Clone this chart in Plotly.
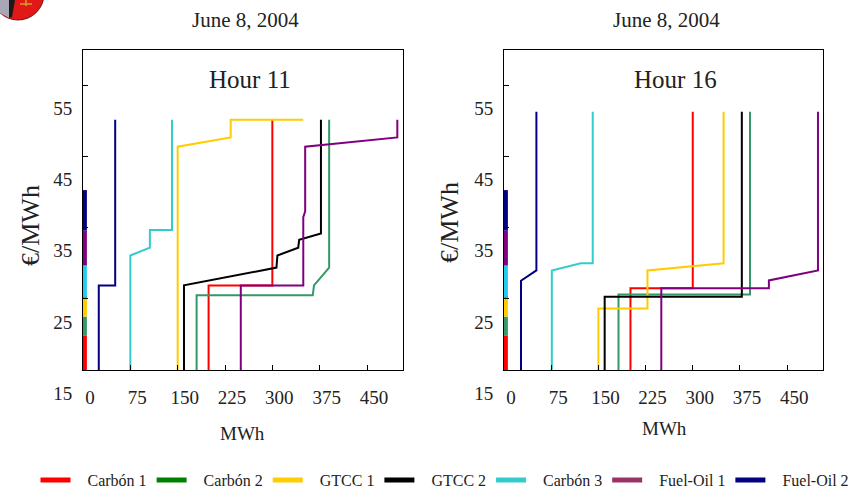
import plotly.graph_objects as go

W, H = 866, 489

# ---------------- data ----------------
names = ["Carbón 1", "Carbón 2", "GTCC 1", "GTCC 2", "Carbón 3", "Fuel-Oil 1", "Fuel-Oil 2"]
line_colors = ["#FF0000", "#339966", "#FFCC00", "#000000", "#33CCCC", "#800080", "#000080"]
legend_colors = ["#FF0000", "#008000", "#FFCC00", "#000000", "#33CCCC", "#993366", "#000080"]

x_ticks = [0, 75, 150, 225, 300, 375, 450]
y_ticks = [15, 25, 35, 45, 55]

# Hour 11 supply curves (MWh, €/MWh)
c1_11_x = [199, 199, 300, 300]
c1_11_y = [15, 26.9, 26.9, 50.2]
c2_11_x = [180, 180, 364, 366, 390, 390]
c2_11_y = [15, 25.5, 25.5, 26.9, 29.4, 50.2]
g1_11_x = [150, 150, 234, 234, 349]
g1_11_y = [15, 46.4, 47.7, 50.2, 50.2]
g2_11_x = [160, 160, 306.5, 308, 341, 342.5, 377, 377]
g2_11_y = [15, 26.9, 29.4, 31.1, 32.2, 33.3, 34.2, 50.2]
c3_11_x = [75, 75, 106, 106, 141, 141]
c3_11_y = [15, 31.1, 32.2, 34.7, 34.7, 50.2]
f1_11_x = [250, 250, 349, 349, 352, 352, 498, 498]
f1_11_y = [15, 26.9, 26.9, 36.5, 37.3, 46.4, 47.7, 50.2]
f2_11_x = [25, 25, 51, 51]
f2_11_y = [15, 26.9, 26.9, 50.2]

# Hour 16 supply curves
c1_16_x = [201, 201, 300, 300]
c1_16_y = [15, 26.5, 26.5, 51.3]
c2_16_x = [182, 182, 391, 391]
c2_16_y = [15, 25.6, 25.6, 51.3]
g1_16_x = [150, 150, 228, 228, 349, 349]
g1_16_y = [15, 23.65, 23.65, 29.0, 30.0, 51.3]
g2_16_x = [160, 160, 378, 378]
g2_16_y = [15, 25.3, 25.3, 51.3]
c3_16_x = [76, 76, 122, 141, 141]
c3_16_y = [15, 29.0, 30.0, 30.0, 51.3]
f1_16_x = [250, 250, 421, 421, 499, 499]
f1_16_y = [15, 26.5, 26.5, 27.6, 29.0, 51.3]
f2_16_x = [27, 27, 51.5, 51.5]
f2_16_y = [15, 27.55, 29.0, 51.3]

# colour band at zero quantity (segment bounds in €/MWh, order of names)
band_lo = [15, 19.8, 22.5, 25.2, 25.2, 29.7, 34.6]
band_hi = [19.8, 22.5, 25.2, 25.4, 29.7, 34.6, 40.3]
band_x = 3

curves_11 = [(c1_11_x, c1_11_y), (c2_11_x, c2_11_y), (g1_11_x, g1_11_y), (g2_11_x, g2_11_y),
             (c3_11_x, c3_11_y), (f1_11_x, f1_11_y), (f2_11_x, f2_11_y)]
curves_16 = [(c1_16_x, c1_16_y), (c2_16_x, c2_16_y), (g1_16_x, g1_16_y), (g2_16_x, g2_16_y),
             (c3_16_x, c3_16_y), (f1_16_x, f1_16_y), (f2_16_x, f2_16_y)]

FONT = "Liberation Serif"

def px(x):
    return x / W

def py(y):
    return 1 - y / H

fig = go.Figure()

for axis_suffix, curves in (("", curves_11), ("2", curves_16)):
    for i, (xs, ys) in enumerate(curves):
        fig.add_trace(go.Scatter(x=xs, y=ys, mode="lines",
                                 line=dict(color=line_colors[i], width=2),
                                 xaxis="x" + axis_suffix, yaxis="y" + axis_suffix,
                                 showlegend=False, hoverinfo="skip"))
    for i in range(len(names)):
        fig.add_trace(go.Scatter(x=[band_x, band_x], y=[band_lo[i], band_hi[i]], mode="lines",
                                 line=dict(color=line_colors[i] if i != 4 else "#22CCEE", width=4),
                                 xaxis="x" + axis_suffix, yaxis="y" + axis_suffix,
                                 showlegend=False, hoverinfo="skip"))

# legend entries
for i, n in enumerate(names):
    fig.add_trace(go.Scatter(x=[None], y=[None], mode="lines", name="\u00a0\u00a0\u00a0" + n,
                             line=dict(color=legend_colors[i], width=5)))

xaxis_common = dict(range=[0, 507], tickvals=x_ticks, ticks="inside", ticklen=5, tickcolor="black",
                    showline=True, linecolor="black", linewidth=1, mirror=True, showgrid=False,
                    zeroline=False, tickfont=dict(family=FONT, size=19, color="#222"),
                    ticklabelshift=7, ticklabelstandoff=10, automargin=False)
yaxis_common = dict(range=[15, 60], tickvals=y_ticks, ticks="inside", ticklen=5, tickcolor="black",
                    showline=True, linecolor="black", linewidth=1, mirror=True, showgrid=False,
                    zeroline=False, tickfont=dict(family=FONT, size=19, color="#222"),
                    ticklabelshift=23, ticklabelstandoff=6, automargin=False)

fig.update_layout(
    width=W, height=H, margin=dict(l=0, r=0, t=0, b=0, autoexpand=False),
    paper_bgcolor="white", plot_bgcolor="white",
    font=dict(family=FONT, color="#222"),
    xaxis=dict(domain=[px(83), px(403)], anchor="y", **xaxis_common),
    yaxis=dict(domain=[py(370), py(50)], anchor="x", **yaxis_common),
    xaxis2=dict(domain=[px(504), px(823)], anchor="y2", **xaxis_common),
    yaxis2=dict(domain=[py(370), py(50)], anchor="x2", **yaxis_common),
    legend=dict(orientation="h", x=px(445), xanchor="center", y=py(480), yanchor="middle",
                font=dict(family=FONT, size=16, color="#222"), itemwidth=30,
                bgcolor="rgba(0,0,0,0)"),
    showlegend=True,
)

def label(cx, cy, text, size, angle=0):
    return dict(x=px(cx), y=py(cy), xref="paper", yref="paper", text=text, showarrow=False,
                xanchor="center", yanchor="middle", textangle=angle,
                font=dict(family=FONT, size=size, color="#222"))

ann = []
for cx in (245, 666):
    ann.append(label(cx, 20, "June 8, 2004", 21))
ann.append(label(250, 80, "Hour 11", 25))
ann.append(label(675, 80, "Hour 16", 25))
ann.append(label(242, 433, "MWh", 19))
ann.append(label(664, 428, "MWh", 19))
ann.append(label(30, 225, "€/MWh", 26, -90))
ann.append(label(449, 222, "€/MWh", 26, -90))
fig.update_layout(annotations=ann)

# logo fragment (top-left corner)
shapes = [
    dict(type="circle", xref="paper", yref="paper", x0=px(18 - 26), x1=px(18 + 26),
         y0=py(20), y1=py(-32), fillcolor="#E01818", line=dict(color="#7a1010", width=1), layer="above"),
    dict(type="path", xref="paper", yref="paper",
         path=f"M {px(0)},{py(0)} L {px(11)},{py(0)} L {px(9)},{py(18)} L {px(0)},{py(13)} Z",
         fillcolor="#a9a6b5", line=dict(width=0), layer="above"),
    dict(type="path", xref="paper", yref="paper",
         path=f"M {px(9)},{py(0)} L {px(15)},{py(0)} L {px(12)},{py(17)} L {px(9)},{py(18)} Z",
         fillcolor="#1a1a1a", line=dict(width=0), layer="above"),
    dict(type="path", xref="paper", yref="paper",
         path=f"M {px(20)},{py(4)} L {px(32)},{py(4)} M {px(26)},{py(0)} L {px(26)},{py(6)}",
         line=dict(color="#d4a020", width=1.5), layer="above"),
]
fig.update_layout(shapes=shapes)

fig.write_html("out.html")
